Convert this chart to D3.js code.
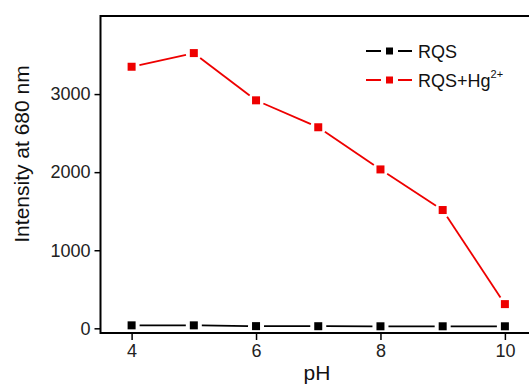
<!DOCTYPE html>
<html>
<head>
<meta charset="utf-8">
<script src="https://cdn.jsdelivr.net/npm/d3@7"></script>
<style>
  body { margin: 0; background: #fff; }
  svg { display: block; font-family: Arial, "Liberation Sans", sans-serif; }
</style>
</head>
<body>
<svg id="chart" width="529" height="388"></svg>
<script>
const pH = [4, 5, 6, 7, 8, 9, 10];
const rqs = [38, 38, 28, 27, 26, 26, 26];
const rqsHg = [3350, 3525, 2920, 2575, 2035, 1515, 310];
const yTicks = [0, 1000, 2000, 3000];
const xTicks = [4, 6, 8, 10];

const series = [
  { name: "RQS", values: rqs, color: "#000000", marker: 8 },
  { name: "RQS+Hg", values: rqsHg, color: "#ee0000", marker: 8 }
];

const svg = d3.select("#chart");
const margin = { top: 16, right: -7, bottom: 55, left: 100.5 };
const width = 529, height = 388;

const x = d3.scaleLinear().domain([3.5, 10.5]).range([margin.left, width - margin.right]);
const y = d3.scaleLinear().domain([-60, 4000]).range([height - margin.bottom, margin.top]);

// axes
const yAxis = svg.append("g")
  .attr("transform", `translate(${margin.left},0)`)
  .call(d3.axisLeft(y).tickValues(yTicks).tickFormat(d3.format("d")).tickSize(6).tickPadding(4));
const xAxis = svg.append("g")
  .attr("transform", `translate(0,${height - margin.bottom})`)
  .call(d3.axisBottom(x).tickValues(xTicks).tickFormat(d3.format("d")).tickSize(7).tickPadding(4));

[yAxis, xAxis].forEach((g) => {
  g.select(".domain").remove();
  g.selectAll(".tick line").attr("stroke", "#000").attr("stroke-width", 1.5);
  g.selectAll(".tick text")
    .attr("fill", "#222")
    .style("font-size", "18px")
    .style("font-family", "Arial, 'Liberation Sans', sans-serif");
});

// frame
svg.append("rect")
  .attr("x", x.range()[0])
  .attr("y", y.range()[1])
  .attr("width", x.range()[1] - x.range()[0])
  .attr("height", y.range()[0] - y.range()[1])
  .attr("fill", "none")
  .attr("stroke", "#000")
  .attr("stroke-width", 2);

// lines with small gaps near the markers
const gap = 8;
series.forEach((s) => {
  const pts = s.values.map((v, i) => [x(pH[i]), y(v)]);
  const segs = d3.pairs(pts).map(([a, b]) => {
    const dx = b[0] - a[0], dy = b[1] - a[1];
    const len = Math.hypot(dx, dy);
    const ux = dx / len, uy = dy / len;
    return [a[0] + ux * gap, a[1] + uy * gap, b[0] - ux * gap, b[1] - uy * gap];
  });
  const g = svg.append("g");
  g.selectAll("line")
    .data(segs)
    .join("line")
    .attr("x1", (d) => d[0])
    .attr("y1", (d) => d[1])
    .attr("x2", (d) => d[2])
    .attr("y2", (d) => d[3])
    .attr("stroke", s.color)
    .attr("stroke-width", 1.8);
  g.selectAll("rect")
    .data(pts)
    .join("rect")
    .attr("x", (d) => d[0] - s.marker / 2)
    .attr("y", (d) => d[1] - s.marker / 2)
    .attr("width", s.marker)
    .attr("height", s.marker)
    .attr("fill", s.color);
});

// legend
const legend = svg.append("g").attr("transform", "translate(366,51)");
const rows = legend.selectAll("g")
  .data(series)
  .join("g")
  .attr("transform", (d, i) => `translate(0,${i * 29})`);
rows.append("line").attr("x1", 0).attr("x2", 15).attr("stroke", (d) => d.color).attr("stroke-width", 2);
rows.append("line").attr("x1", 32).attr("x2", 46).attr("stroke", (d) => d.color).attr("stroke-width", 2);
rows.append("rect").attr("x", 20).attr("y", -3.5).attr("width", 7).attr("height", 7).attr("fill", (d) => d.color);
const lt = rows.append("text")
  .attr("x", 52)
  .attr("y", 7)
  .attr("fill", "#111")
  .style("font-size", "18px")
  .text((d) => d.name);
lt.filter((d, i) => i === 1)
  .append("tspan")
  .attr("dy", -9)
  .style("font-size", "11px")
  .text("2+");

// axis titles
svg.append("text")
  .attr("transform", `translate(29,154) rotate(-90)`)
  .attr("text-anchor", "middle")
  .attr("fill", "#111")
  .style("font-size", "21px")
  .text("Intensity at 680 nm");
svg.append("text")
  .attr("x", 317)
  .attr("y", 380)
  .attr("text-anchor", "middle")
  .attr("fill", "#111")
  .style("font-size", "21px")
  .text("pH");
</script>
</body>
</html>
